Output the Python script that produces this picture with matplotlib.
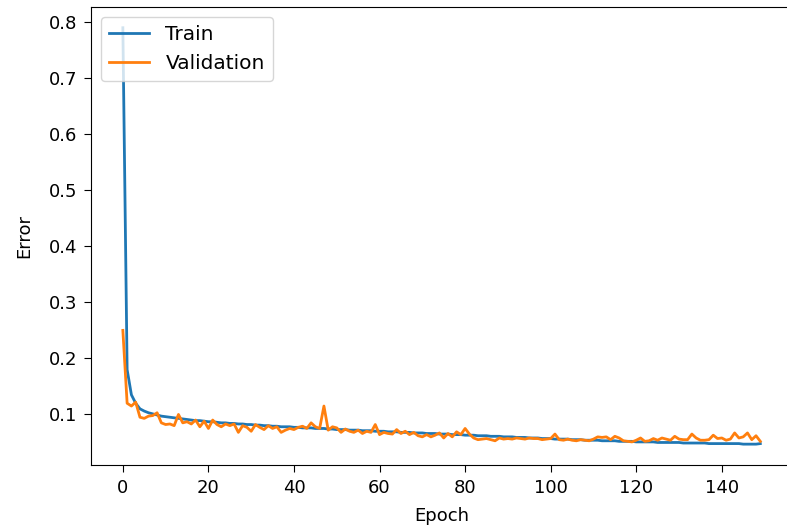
import matplotlib
matplotlib.use("Agg")
import matplotlib.pyplot as plt

# per-epoch error
train_err = [
  0.790, 0.180, 0.135, 0.120, 0.110, 0.106, 0.103, 0.101, 0.099, 0.097,
  0.096, 0.095, 0.094, 0.093, 0.092, 0.091, 0.090, 0.089, 0.089, 0.088,
  0.087, 0.087, 0.086, 0.085, 0.085, 0.084, 0.084, 0.083, 0.083, 0.082,
  0.082, 0.081, 0.081, 0.080, 0.080, 0.079, 0.079, 0.078, 0.078, 0.078,
  0.077, 0.077, 0.076, 0.076, 0.076, 0.075, 0.075, 0.075, 0.074, 0.074,
  0.073, 0.073, 0.073, 0.072, 0.072, 0.072, 0.071, 0.071, 0.071, 0.070,
  0.070, 0.070, 0.069, 0.069, 0.069, 0.068, 0.068, 0.068, 0.067, 0.067,
  0.067, 0.066, 0.066, 0.066, 0.065, 0.065, 0.065, 0.064, 0.064, 0.064,
  0.063, 0.063, 0.063, 0.062, 0.062, 0.062, 0.061, 0.061, 0.061, 0.060,
  0.060, 0.060, 0.059, 0.059, 0.059, 0.058, 0.058, 0.058, 0.057, 0.057,
  0.057, 0.056, 0.056, 0.056, 0.056, 0.055, 0.055, 0.055, 0.054, 0.054,
  0.054, 0.054, 0.053, 0.053, 0.053, 0.053, 0.052, 0.052, 0.052, 0.052,
  0.051, 0.051, 0.051, 0.051, 0.051, 0.050, 0.050, 0.050, 0.050, 0.050,
  0.050, 0.049, 0.049, 0.049, 0.049, 0.049, 0.049, 0.048, 0.048, 0.048,
  0.048, 0.048, 0.048, 0.048, 0.048, 0.047, 0.047, 0.047, 0.047, 0.048,
]

val_err = [
  0.250, 0.120, 0.115, 0.122, 0.095, 0.093, 0.097, 0.098, 0.103, 0.085,
  0.082, 0.083, 0.080, 0.100, 0.085, 0.087, 0.083, 0.090, 0.078, 0.088,
  0.075, 0.090, 0.082, 0.078, 0.083, 0.080, 0.083, 0.068, 0.080, 0.077,
  0.070, 0.082, 0.077, 0.073, 0.080, 0.075, 0.078, 0.068, 0.072, 0.075,
  0.073, 0.077, 0.079, 0.075, 0.085, 0.078, 0.075, 0.115, 0.072, 0.078,
  0.076, 0.068, 0.074, 0.070, 0.068, 0.072, 0.066, 0.070, 0.068, 0.082,
  0.064, 0.068, 0.066, 0.065, 0.073, 0.066, 0.070, 0.064, 0.068, 0.062,
  0.060, 0.064, 0.060, 0.063, 0.067, 0.058, 0.066, 0.060, 0.069, 0.064,
  0.075, 0.065, 0.058, 0.055, 0.056, 0.057, 0.055, 0.053, 0.058, 0.056,
  0.057, 0.056, 0.058, 0.057, 0.056, 0.058, 0.057, 0.057, 0.055, 0.056,
  0.057, 0.065, 0.055, 0.054, 0.056, 0.054, 0.053, 0.055, 0.054, 0.053,
  0.056, 0.060, 0.059, 0.060, 0.055, 0.061, 0.058, 0.053, 0.052, 0.051,
  0.054, 0.058, 0.052, 0.053, 0.057, 0.054, 0.058, 0.056, 0.054, 0.061,
  0.056, 0.055, 0.055, 0.065, 0.058, 0.054, 0.054, 0.055, 0.063, 0.057,
  0.058, 0.054, 0.056, 0.067, 0.058, 0.060, 0.067, 0.055, 0.062, 0.052,
]

epochs = list(range(len(train_err)))

plt.rcParams["font.size"] = 13
plt.rcParams["xtick.major.size"] = 5
plt.rcParams["ytick.major.size"] = 5
plt.rcParams["xtick.major.pad"] = 5
plt.rcParams["ytick.major.pad"] = 5

fig = plt.figure(figsize=(7.87, 5.32), dpi=100)
# the reference is cropped: the right spine falls just outside the picture
ax = fig.add_axes([0.1156, 0.126, 0.891, 0.861])
ax.plot(epochs, train_err, color="tab:blue", lw=2.0, label="Train")
ax.plot(epochs, val_err, color="tab:orange", lw=2.0, label="Validation")
ax.set_xlabel("Epoch", labelpad=7)
ax.set_ylabel("Error", labelpad=11)
ax.legend(loc="upper left", fontsize=14.5)
fig.savefig("out.png")
